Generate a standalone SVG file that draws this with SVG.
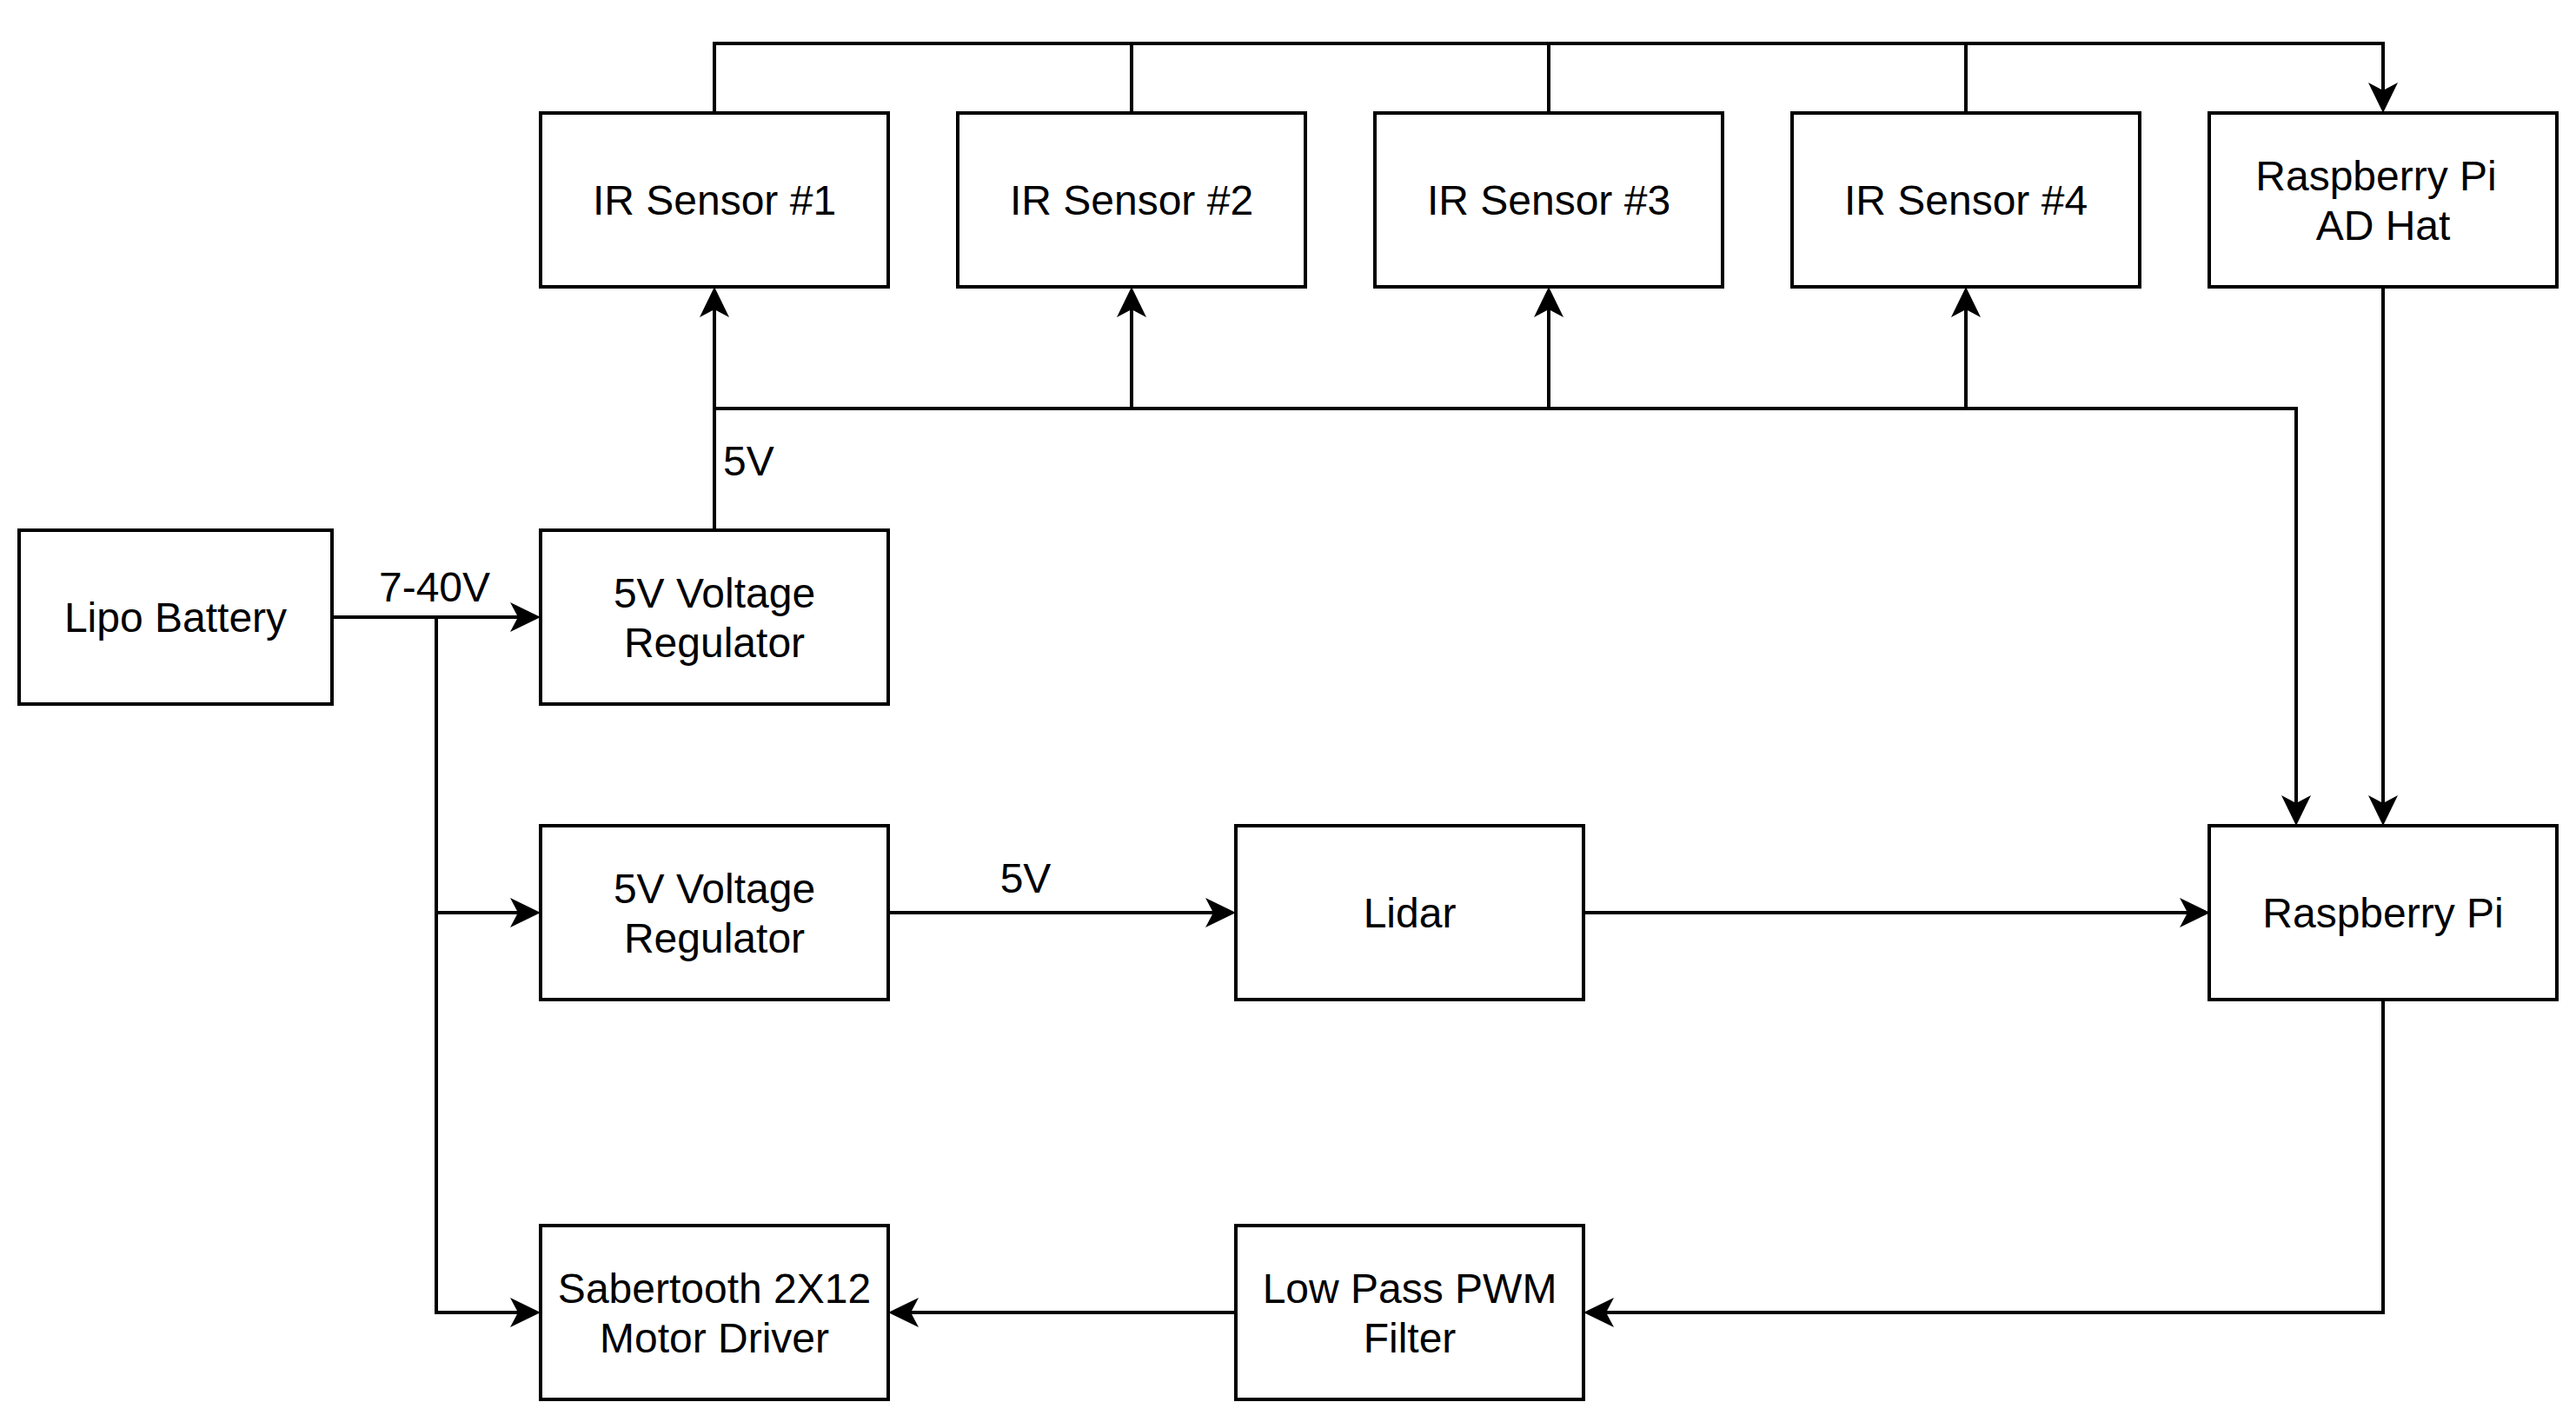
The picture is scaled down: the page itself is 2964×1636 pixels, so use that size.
<svg xmlns="http://www.w3.org/2000/svg" width="2964" height="1636" viewBox="0 0 2964 1636">
<style>
.box{fill:#ffffff;stroke:#000000;stroke-width:4}
.lbl{font-family:"Liberation Sans",Arial,Helvetica,sans-serif;font-size:48px;fill:#000000;text-anchor:middle}
.el{font-family:"Liberation Sans",Arial,Helvetica,sans-serif;font-size:48px;fill:#000000}
.wire{fill:none;stroke:#000000;stroke-width:4;stroke-linejoin:miter}
.arr{fill:none;stroke:#000000;stroke-width:4;marker-end:url(#ah)}
</style>
<defs>
<marker id="ah" markerUnits="userSpaceOnUse" viewBox="-10 -20 40 40" markerWidth="40" markerHeight="40" refX="0" refY="0" orient="auto">
<path d="M26 0 L-9 -17 L0 0 L-9 17 Z" fill="#000000"/>
</marker>
</defs>
<rect width="2964" height="1636" fill="#ffffff"/>
<g id="connectors">
<path class="arr" d="M382 710 H596"/>
<path class="arr" d="M502 710 V1510 H596"/>
<path class="arr" d="M502 1050 H596"/>
<path class="arr" d="M822 610 V356"/>
<path class="arr" d="M822 470 H2642 V924"/>
<path class="arr" d="M1302 470 V356"/>
<path class="arr" d="M1782 470 V356"/>
<path class="arr" d="M2262 470 V356"/>
<path class="arr" d="M822 130 V50 H2742 V104"/>
<path class="wire" d="M1302 130 V50"/>
<path class="wire" d="M1782 130 V50"/>
<path class="wire" d="M2262 130 V50"/>
<path class="arr" d="M2742 330 V924"/>
<path class="arr" d="M1022 1050 H1396"/>
<path class="arr" d="M1822 1050 H2517"/>
<path class="arr" d="M2742 1150 V1510 H1848"/>
<path class="arr" d="M1422 1510 H1048"/>
<text class="lbl" x="500" y="692">7-40V</text>
<text class="el" x="832" y="547">5V</text>
<text class="lbl" x="1180" y="1027">5V</text>
</g>
<g id="lipo"><rect class="box" x="22" y="610" width="360" height="200"/><text class="lbl" x="202" y="727">Lipo Battery</text></g>
<g id="reg1"><rect class="box" x="622" y="610" width="400" height="200"/><text class="lbl" x="822" y="699">5V Voltage</text><text class="lbl" x="822" y="756">Regulator</text></g>
<g id="reg2"><rect class="box" x="622" y="950" width="400" height="200"/><text class="lbl" x="822" y="1039">5V Voltage</text><text class="lbl" x="822" y="1096">Regulator</text></g>
<g id="sabertooth"><rect class="box" x="622" y="1410" width="400" height="200"/><text class="lbl" x="822" y="1499">Sabertooth 2X12</text><text class="lbl" x="822" y="1556">Motor Driver</text></g>
<g id="ir1"><rect class="box" x="622" y="130" width="400" height="200"/><text class="lbl" x="822" y="247">IR Sensor #1</text></g>
<g id="ir2"><rect class="box" x="1102" y="130" width="400" height="200"/><text class="lbl" x="1302" y="247">IR Sensor #2</text></g>
<g id="ir3"><rect class="box" x="1582" y="130" width="400" height="200"/><text class="lbl" x="1782" y="247">IR Sensor #3</text></g>
<g id="ir4"><rect class="box" x="2062" y="130" width="400" height="200"/><text class="lbl" x="2262" y="247">IR Sensor #4</text></g>
<g id="adhat"><rect class="box" x="2542" y="130" width="400" height="200"/><text class="lbl" x="2734" y="219">Raspberry Pi</text><text class="lbl" x="2742" y="276">AD Hat</text></g>
<g id="lidar"><rect class="box" x="1422" y="950" width="400" height="200"/><text class="lbl" x="1622" y="1067">Lidar</text></g>
<g id="rpi"><rect class="box" x="2542" y="950" width="400" height="200"/><text class="lbl" x="2742" y="1067">Raspberry Pi</text></g>
<g id="lowpass"><rect class="box" x="1422" y="1410" width="400" height="200"/><text class="lbl" x="1622" y="1499">Low Pass PWM</text><text class="lbl" x="1622" y="1556">Filter</text></g>
</svg>
